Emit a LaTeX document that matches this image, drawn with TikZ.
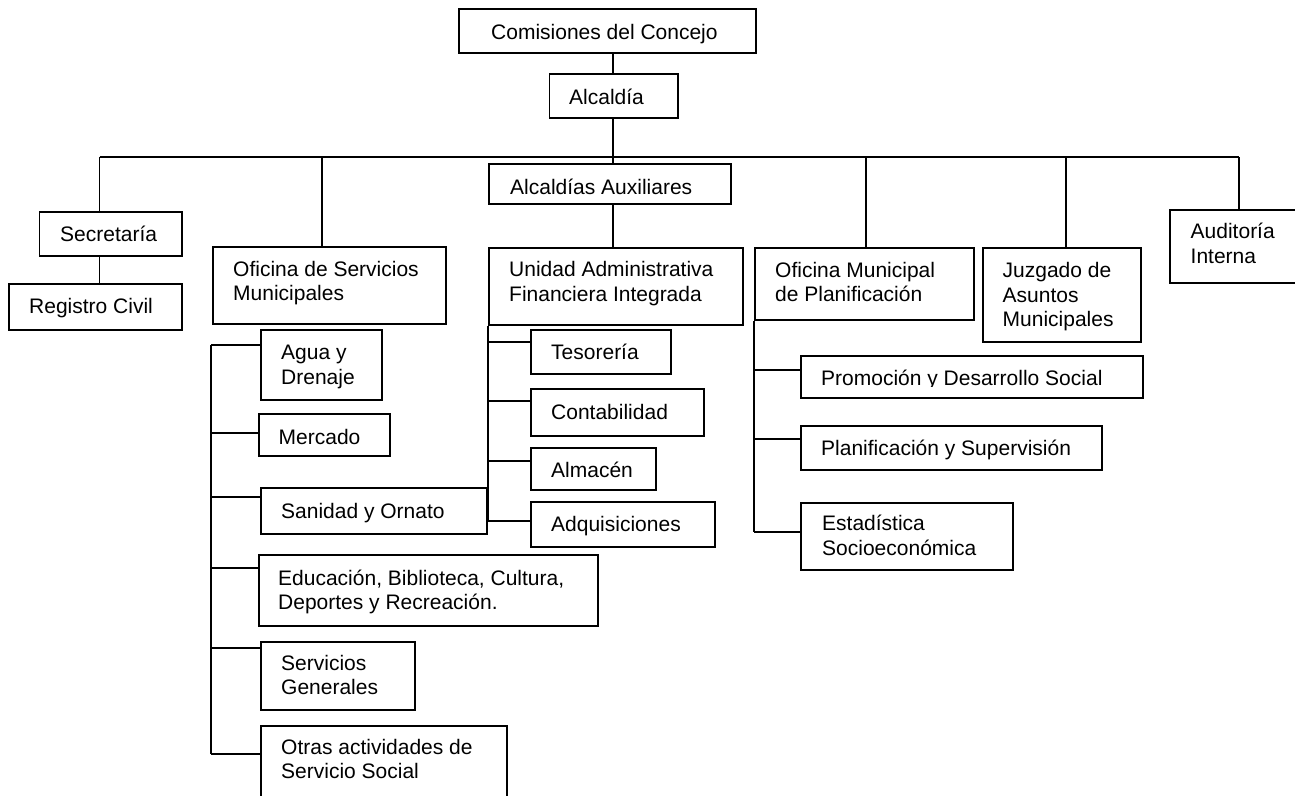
\documentclass[tikz,border=0pt]{standalone}
\usepackage{fontspec}
\setmainfont{Liberation Sans}

% multi-line, left-aligned label whose reference point is the first baseline
\newcommand\lines[1]{\vtop{\halign{##\hfil\cr#1\crcr}}}

% one organisational unit: name, top-left x/y, bottom-right x/y, text x/baseline, text
\newcommand\orgunit[8]{%
  \node[box, minimum width={#4-#2}, minimum height={#5-#3}] (#1) at (#2,#3) {};
  \node[txt] (#1-t) at (#6,#7) {#8};}

\begin{document}
\begin{tikzpicture}[x=1pt,y=-1pt,
  box/.style={draw=black, line width=1.8pt, rectangle, inner sep=0pt, anchor=north west},
  txt/.style={inner sep=0pt, anchor=base west, font=\fontsize{21}{24.5}\selectfont},
  link/.style={draw=black, line width=1.8pt}]
\useasboundingbox (0,0) rectangle (1295,795);
\fill[white] (0,0) rectangle (1295,795);

% ---- top of the hierarchy ----
\orgunit{com}{458}{8}{755}{52}{491}{39.5}{Comisiones del Concejo}
\orgunit{alc}{548.5}{73}{677}{117}{569}{104}{Alcaldía}
\node[box, minimum width=242, minimum height=40] (aux) at (488,163) {};
\begin{scope}
  \clip (488,163) rectangle (730,194);
  \node[txt] (aux-t) at (510,194.3) {Alcaldías Auxiliares};
\end{scope}

% ---- direct dependencies ----
\orgunit{sec}{38.5}{211}{181}{255}{60}{241.5}{Secretaría}
\orgunit{reg}{8}{283}{181}{329}{29}{313}{Registro Civil}
\orgunit{osm}{212}{246}{445}{323}{233}{276}{\lines{Oficina de Servicios\cr Municipales}}
\orgunit{uafi}{488}{247}{742}{324}{509}{276.5}{\lines{Unidad Administrativa\cr Financiera Integrada}}
\orgunit{omp}{754}{247}{973}{319}{775}{277}{\lines{Oficina Municipal\cr de Planificación}}
\orgunit{juz}{982}{247}{1140}{341}{1002.5}{277.5}{\lines{Juzgado de\cr Asuntos\cr Municipales}}
\orgunit{aud}{1169}{209}{1310}{282}{1190.5}{238.5}{\lines{Auditoría\cr Interna}}

% ---- services office ----
\orgunit{agua}{260}{329}{381}{399}{281}{359.5}{\lines{Agua y\cr Drenaje}}
\orgunit{merc}{258}{413}{389}{455}{278.5}{444}{Mercado}
\orgunit{sani}{260}{487}{486}{533}{281}{518}{Sanidad y Ornato}
\orgunit{edu}{258}{554}{597}{625}{278}{585}{\lines{Educación, Biblioteca, Cultura,\cr Deportes y Recreación.}}
\orgunit{sgen}{260}{641}{414}{709}{281}{670}{\lines{Servicios\cr Generales}}
\orgunit{otras}{260}{725}{506}{815}{281}{754}{\lines{Otras actividades de\cr Servicio Social}}

% ---- financial unit ----
\orgunit{teso}{530}{329}{670}{373}{551}{359}{Tesorería}
\orgunit{cont}{530}{388}{703}{435}{551}{419}{Contabilidad}
\orgunit{alma}{530}{447}{655}{489}{551}{477}{Almacén}
\orgunit{adq}{530}{501}{714}{546}{551}{531}{Adquisiciones}

% ---- planning office ----
\node[box, minimum width=342, minimum height=42] (prom) at (800,355) {};
\begin{scope}
  \clip (800,355) rectangle (1142,386.2);
  \node[txt] (prom-t) at (821,385.5) {Promoción y Desarrollo Social};
\end{scope}
\orgunit{plan}{800}{425}{1101}{469}{821}{455}{Planificación y Supervisión}
\orgunit{esta}{800}{502}{1012}{569}{822}{530.5}{\lines{Estadística\cr Socioeconómica}}

% ---- connectors ----
\coordinate (d1) at (99.5,157);
\coordinate (d2) at (322,157);
\coordinate (d3) at (613,157);
\coordinate (d4) at (866,157);
\coordinate (d5) at (1066,157);
\coordinate (d6) at (1239,157);

\draw[link] (com.south -| d3) -- (alc.north -| d3);
\draw[link] (alc.south -| d3) -- (d3) -- (aux.north -| d3);
\draw[link] (aux.south -| d3) -- (uafi.north -| d3);
\draw[link] (d1) -- (d6);
\draw[link] (d1) -- (sec.north -| d1);
\draw[link] (d2) -- (osm.north -| d2);
\draw[link] (d4) -- (omp.north -| d4);
\draw[link] (d5) -- (juz.north -| d5);
\draw[link] (d6) -- (aud.north -| d6);
\draw[link] (sec.south -| d1) -- (reg.north -| d1);

% services office branches
\coordinate (s1) at (211,345);
\coordinate (s2) at (211,433);
\coordinate (s3) at (211,497);
\coordinate (s4) at (211,568);
\coordinate (s5) at (211,648);
\coordinate (s6) at (211,754);
\draw[link] (s1) -- (s6);
\draw[link] (s1) -- (s1 -| agua.west);
\draw[link] (s2) -- (s2 -| merc.west);
\draw[link] (s3) -- (s3 -| sani.west);
\draw[link] (s4) -- (s4 -| edu.west);
\draw[link] (s5) -- (s5 -| sgen.west);
\draw[link] (s6) -- (s6 -| otras.west);

% financial unit branches
\coordinate (u1) at (488,342);
\coordinate (u2) at (488,401);
\coordinate (u3) at (488,461);
\coordinate (u4) at (488,521);
\draw[link] (uafi.south west) -- (u4);
\draw[link] (u1) -- (u1 -| teso.west);
\draw[link] (u2) -- (u2 -| cont.west);
\draw[link] (u3) -- (u3 -| alma.west);
\draw[link] (u4) -- (u4 -| adq.west);

% planning office branches
\coordinate (p1) at (754,370);
\coordinate (p2) at (754,439);
\coordinate (p3) at (754,532);
\draw[link] (omp.south west) -- (p3);
\draw[link] (p1) -- (p1 -| prom.west);
\draw[link] (p2) -- (p2 -| plan.west);
\draw[link] (p3) -- (p3 -| esta.west);
\end{tikzpicture}
\end{document}
